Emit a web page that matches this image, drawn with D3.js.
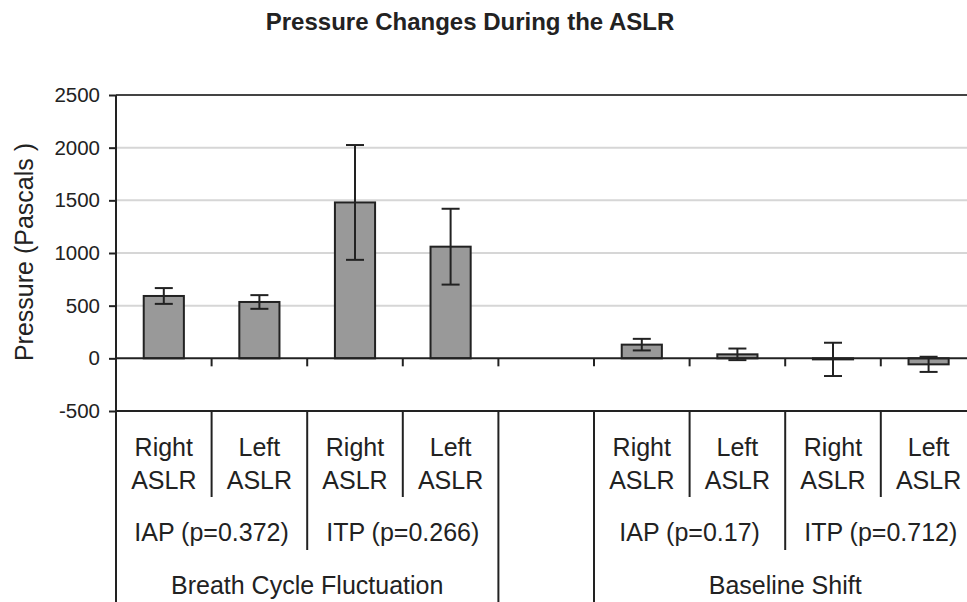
<!DOCTYPE html>
<html>
<head>
<meta charset="utf-8">
<script src="https://cdn.jsdelivr.net/npm/d3@7"></script>
<style>
  html, body { margin: 0; padding: 0; background: #fff; }
  svg { display: block; }
  text { font-family: "Liberation Sans", Arial, sans-serif; fill: #222; }
</style>
</head>
<body>
<svg id="chart" width="967" height="602"></svg>
<script>
// ---- Data ----
const title = "Pressure Changes During the ASLR";
const yTitle = "Pressure (Pascals )";
const categories = ["Right ASLR", "Left ASLR", "Right ASLR", "Left ASLR", "", "Right ASLR", "Left ASLR", "Right ASLR", "Left ASLR"];
const measureOf = ["IAP (p=0.372)", "IAP (p=0.372)", "ITP (p=0.266)", "ITP (p=0.266)", "", "IAP (p=0.17)", "IAP (p=0.17)", "ITP (p=0.712)", "ITP (p=0.712)"];
const conditionOf = ["Breath Cycle Fluctuation", "Breath Cycle Fluctuation", "Breath Cycle Fluctuation", "Breath Cycle Fluctuation", "", "Baseline Shift", "Baseline Shift", "Baseline Shift", "Baseline Shift"];
const means = [592, 535, 1480, 1060, null, 130, 38, -10, -57];
const errors = [75, 65, 545, 360, null, 55, 55, 158, 72];
const yTicks = [-500, 0, 500, 1000, 1500, 2000, 2500];

(function () {
// ---- Layout ----
const svg = d3.select("#chart");
const W = 967, H = 602;
const mLeft = 116, mRight = 976.4, mTop = 95, mBottom = 411;

const x = d3.scaleBand().domain(d3.range(categories.length)).range([mLeft, mRight]).paddingInner(0).paddingOuter(0);
const y = d3.scaleLinear().domain([-500, 2500]).range([mBottom, mTop]);
const barW = x.bandwidth() * 0.42;
const capW = 18;
const labelSize = "25px";

// Title
svg.append("text")
  .attr("x", 470).attr("y", 30)
  .attr("text-anchor", "middle")
  .style("font-size", "24px").style("font-weight", "bold")
  .text(title);

// Y title
svg.append("text")
  .attr("transform", `translate(33, 252) rotate(-90)`)
  .attr("text-anchor", "middle")
  .style("font-size", labelSize)
  .text(yTitle);

// Gridlines
svg.append("g").selectAll("line")
  .data(yTicks.filter(t => t > 0 && t < 2500))
  .join("line")
  .attr("x1", mLeft).attr("x2", W)
  .attr("y1", d => y(d)).attr("y2", d => y(d))
  .attr("stroke", "#d6d6d6").attr("stroke-width", 2);

// Top line (2500)
svg.append("line")
  .attr("x1", mLeft).attr("x2", W)
  .attr("y1", y(2500)).attr("y2", y(2500))
  .attr("stroke", "#444").attr("stroke-width", 2);

// Y axis
const yAxis = d3.axisLeft(y).tickValues(yTicks).tickFormat(d => String(d)).tickSize(7).tickSizeOuter(0).tickPadding(9);
const yg = svg.append("g").attr("transform", `translate(${mLeft},0)`).call(yAxis);
yg.select(".domain").remove();
yg.selectAll(".tick line").attr("stroke", "#222").attr("stroke-width", 2);
yg.selectAll(".tick text").style("font-size", "20.5px").style("font-family", "'Liberation Sans', Arial, sans-serif").attr("fill", "#222");
svg.append("line")
  .attr("x1", mLeft).attr("x2", mLeft)
  .attr("y1", mTop).attr("y2", H)
  .attr("stroke", "#222").attr("stroke-width", 2);

// Bars
const barData = means.map((m, i) => ({ i, m, e: errors[i] })).filter(d => d.m !== null);
svg.append("g").selectAll("rect")
  .data(barData)
  .join("rect")
  .attr("x", d => x(d.i) + (x.bandwidth() - barW) / 2)
  .attr("width", barW)
  .attr("y", d => y(Math.max(0, d.m)))
  .attr("height", d => Math.abs(y(d.m) - y(0)))
  .attr("fill", "#999999")
  .attr("stroke", "#222").attr("stroke-width", 2);

// Zero line
svg.append("line")
  .attr("x1", mLeft).attr("x2", W)
  .attr("y1", y(0)).attr("y2", y(0))
  .attr("stroke", "#222").attr("stroke-width", 2);

// Category ticks on zero line
svg.append("g").selectAll("line")
  .data(d3.range(1, categories.length))
  .join("line")
  .attr("x1", d => x(d)).attr("x2", d => x(d))
  .attr("y1", y(0)).attr("y2", y(0) + 8)
  .attr("stroke", "#222").attr("stroke-width", 2);

// Error bars
const eg = svg.append("g").attr("stroke", "#222").attr("stroke-width", 2);
barData.forEach(d => {
  const cx = x(d.i) + x.bandwidth() / 2;
  eg.append("line").attr("x1", cx).attr("x2", cx).attr("y1", y(d.m + d.e)).attr("y2", y(d.m - d.e));
  eg.append("line").attr("x1", cx - capW / 2).attr("x2", cx + capW / 2).attr("y1", y(d.m + d.e)).attr("y2", y(d.m + d.e));
  eg.append("line").attr("x1", cx - capW / 2).attr("x2", cx + capW / 2).attr("y1", y(d.m - d.e)).attr("y2", y(d.m - d.e));
});

// -500 line (top of category table)
svg.append("line")
  .attr("x1", mLeft).attr("x2", W)
  .attr("y1", y(-500)).attr("y2", y(-500))
  .attr("stroke", "#222").attr("stroke-width", 2);

// Category table
const level1Bottom = 497, level2Bottom = 550;
const tbl = svg.append("g");
for (let k = 1; k < categories.length; k++) {
  let y2 = level1Bottom;
  if (conditionOf[k] !== conditionOf[k - 1]) y2 = H;
  else if (measureOf[k] !== measureOf[k - 1]) y2 = level2Bottom;
  tbl.append("line")
    .attr("x1", x(k)).attr("x2", x(k))
    .attr("y1", y(-500)).attr("y2", y2)
    .attr("stroke", "#222").attr("stroke-width", 2);
}

// Level 1 labels (two lines)
categories.forEach((c, i) => {
  if (!c) return;
  const parts = c.split(" ");
  const cx = x(i) + x.bandwidth() / 2;
  const t = tbl.append("text")
    .attr("x", cx)
    .attr("text-anchor", "middle")
    .style("font-size", labelSize);
  parts.forEach((p, j) => {
    t.append("tspan").attr("x", cx).attr("y", 456 + j * 33).text(p);
  });
});

function runs(arr) {
  const out = [];
  let s = 0;
  for (let k = 1; k <= arr.length; k++) {
    if (k === arr.length || arr[k] !== arr[s]) { out.push({ label: arr[s], start: s, end: k }); s = k; }
  }
  return out;
}
runs(measureOf).forEach(r => {
  if (!r.label) return;
  tbl.append("text")
    .attr("x", (x(r.start) + x(r.end - 1) + x.bandwidth()) / 2)
    .attr("y", 541)
    .attr("text-anchor", "middle")
    .style("font-size", labelSize)
    .text(r.label);
});
runs(conditionOf).forEach(r => {
  if (!r.label) return;
  tbl.append("text")
    .attr("x", (x(r.start) + x(r.end - 1) + x.bandwidth()) / 2)
    .attr("y", 594)
    .attr("text-anchor", "middle")
    .style("font-size", labelSize)
    .text(r.label);
});
})();
</script>
</body>
</html>
